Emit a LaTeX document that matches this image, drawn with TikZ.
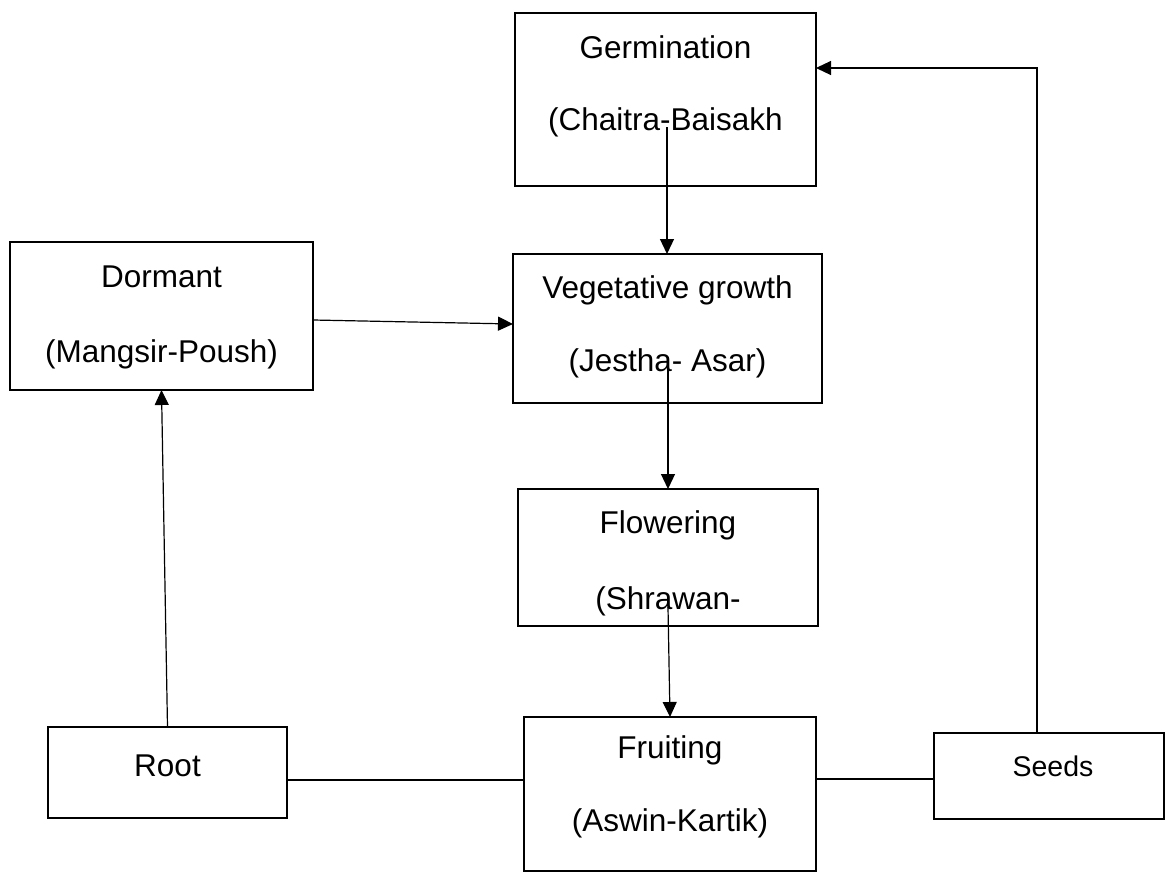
\documentclass[tikz,border=0pt]{standalone}
\usepackage{fontspec}
\setmainfont{Liberation Sans}
\usetikzlibrary{arrows.meta}
\begin{document}
\begin{tikzpicture}[x=1pt,y=-1pt,
  box/.style={draw, line width=2.7pt, inner sep=0pt, outer sep=0pt},
  lbl/.style={anchor=base, inner sep=0pt, font=\fontsize{31.5pt}{36pt}\selectfont},
  slbl/.style={anchor=base, inner sep=0pt, font=\fontsize{28.5pt}{34pt}\selectfont},
  conn/.style={line width=1.2pt},
  arr/.style={conn, -{Triangle[length=15pt,width=14pt]}}]
\fill[white] (0,0) rectangle (1168,873);
\useasboundingbox (0,0) rectangle (1168,873);
% boxes
\node[box, minimum width=301pt, minimum height=173pt] (germ) at (665.5,99.5) {};
\node[box, minimum width=309pt, minimum height=149pt] (veg) at (667.5,328.5) {};
\node[box, minimum width=303pt, minimum height=148pt] (dorm) at (161.5,316) {};
\node[box, minimum width=300pt, minimum height=137pt] (flow) at (668,557.5) {};
\node[box, minimum width=292pt, minimum height=154pt] (fruit) at (670,794) {};
\node[box, minimum width=239pt, minimum height=91pt] (root) at (167.5,772.5) {};
\node[box, minimum width=230pt, minimum height=86pt] (seeds) at (1049,776) {};
% texts
\node[lbl] (germA) at (665.5,58) {Germination};
\node[lbl] (germB) at (665.5,130) {(Chaitra-Baisakh};
\node[lbl] (vegA) at (667.5,298) {Vegetative growth};
\node[lbl] (vegB) at (667.5,371) {(Jestha- Asar)};
\node[lbl] (dormA) at (161.5,287) {Dormant};
\node[lbl] (dormB) at (161.5,362) {(Mangsir-Poush)};
\node[lbl] (flowA) at (668,533) {Flowering};
\node[lbl] (flowB) at (668,609) {(Shrawan-};
\node[lbl] (fruitA) at (670,758) {Fruiting};
\node[lbl] (fruitB) at (670,831) {(Aswin-Kartik)};
\node[lbl] (rootA) at (167.5,776) {Root};
\node[slbl] (seedsA) at (1053,776) {Seeds};
% connectors
\coordinate (gs) at (667,127);
\coordinate (vs) at (668,357);
\coordinate (fs) at (668,607);
\draw[arr] (gs) -- (gs |- veg.north);
\draw[arr] (vs) -- (vs |- flow.north);
\draw[arr] (fs) -- (fruit.north);
\draw[arr] ([yshift=-4pt]dorm.east) -- ([yshift=4.5pt]veg.west);
\draw[arr] (root.north) -- (dorm.south);
\draw[conn] ([yshift=-7.5pt]root.east) -- ([yshift=14pt]fruit.west);
\draw[conn] ([yshift=15pt]fruit.east) -- ([yshift=-3pt]seeds.west);
\draw[arr] ([xshift=-12pt]seeds.north) |- ([yshift=31.5pt]germ.east);
\end{tikzpicture}
\end{document}
